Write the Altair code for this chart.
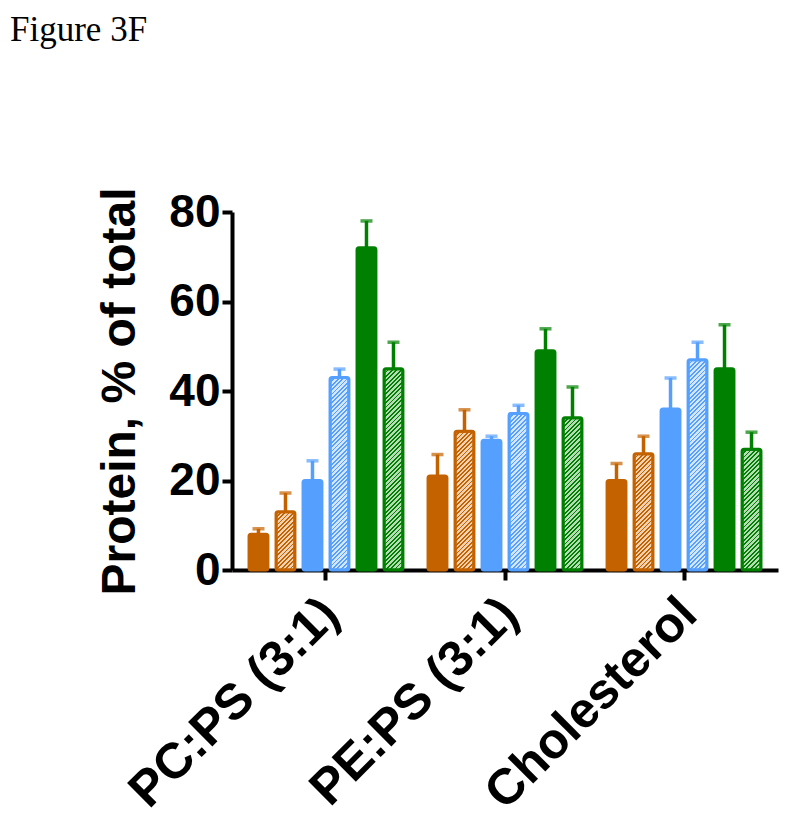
import math
import altair as alt
import pandas as pd

groups = ["PC:PS (3:1)", "PE:PS (3:1)", "Cholesterol"]
series = ["S1", "S2", "S3", "S4", "S5", "S6"]
hatched = [False, True, False, True, False, True]
line_colors = ["#C46200", "#C46200", "#55A0FF", "#55A0FF", "#008000", "#008000"]
pale_colors = ["#C46200", "#F2D2B0", "#55A0FF", "#D2E6FF", "#008000", "#B5DCB5"]

means = {
    "PC:PS (3:1)": [8, 13, 20, 43, 72, 45],
    "PE:PS (3:1)": [21, 31, 29, 35, 49, 34],
    "Cholesterol": [20, 26, 36, 47, 45, 27],
}
errors = {
    "PC:PS (3:1)": [1.2, 4.2, 4.4, 1.9, 6.0, 5.9],
    "PE:PS (3:1)": [4.8, 4.8, 0.9, 1.8, 4.9, 6.9],
    "Cholesterol": [3.8, 3.9, 6.9, 3.9, 9.8, 3.8],
}

rows = []
for g in groups:
    for i, s in enumerate(series):
        m = means[g][i]
        e = errors[g][i]
        rows.append({"group": g, "series": s, "mean": m, "upper": m + e})
df = pd.DataFrame(rows)

FONT = "Liberation Sans"
W, H = 546, 358
Y_MAX = 80
X_PAD_OUTER = 0.025
XO_PAD_INNER, XO_PAD_OUTER = 0.3, 0.465

# size of one sub-band, used to build the hatch gradient of each hatched bar
x_step = W / (len(groups) + 2 * X_PAD_OUTER)
xo_step = x_step / (len(series) - XO_PAD_INNER + 2 * XO_PAD_OUTER)
bar_w = xo_step * (1 - XO_PAD_INNER)


def hatch(value, dark, light, period=3.1, frac=0.42):
    w = bar_w
    h = max(value * H / Y_MAX, 1.0)
    k = (w + h) / (w * w + h * h)
    L = w + h
    P = period * math.sqrt(2)
    n = int(math.ceil(L / P))
    stops = []
    for i in range(n):
        t0 = min(i * P / L, 1.0)
        t1 = min((i + frac) * P / L, 1.0)
        t2 = min((i + 1) * P / L, 1.0)
        stops += [
            {"offset": t0, "color": dark},
            {"offset": t1, "color": dark},
            {"offset": t1, "color": light},
            {"offset": t2, "color": light},
        ]
    return {"gradient": "linear", "x1": 0, "y1": 0, "x2": k * w, "y2": k * h, "stops": stops}


x_enc = alt.X(
    "group:N",
    sort=groups,
    scale=alt.Scale(domain=groups, paddingInner=0, paddingOuter=X_PAD_OUTER),
    axis=alt.Axis(
        title=None,
        labelAngle=-45,
        labelAlign="right",
        labelBaseline="middle",
        labelLimit=0,
        labelFont=FONT,
        labelFontSize=50,
        labelFontWeight="bold",
        labelColor="black",
        labelPadding=26,
        labelOffset=5,
        domainColor="black",
        domainWidth=4,
        tickColor="black",
        tickWidth=4,
        tickSize=10,
    ),
)
xo_enc = alt.XOffset(
    "series:N",
    sort=series,
    scale=alt.Scale(domain=series, paddingInner=XO_PAD_INNER, paddingOuter=XO_PAD_OUTER),
)
y_scale = alt.Scale(domain=[0, Y_MAX], nice=False)
y_enc = alt.Y(
    "mean:Q",
    scale=y_scale,
    axis=alt.Axis(
        title="Protein, % of total",
        values=[0, 20, 40, 60, 80],
        grid=False,
        labelFont=FONT,
        labelFontSize=46,
        labelFontWeight="bold",
        labelColor="black",
        labelPadding=2,
        domainColor="black",
        domainWidth=4,
        tickColor="black",
        tickWidth=4,
        tickSize=10,
        titleFont=FONT,
        titleFontSize=48,
        titleFontWeight="bold",
        titleColor="black",
        titlePadding=24,
    ),
)
color_scale = alt.Scale(domain=series, range=line_colors)

solid_series = [s for s, h in zip(series, hatched) if not h]
solid_bars = (
    alt.Chart(df)
    .transform_filter(alt.FieldOneOfPredicate(field="series", oneOf=solid_series))
    .mark_bar(strokeWidth=3, cornerRadius=2)
    .encode(
        x=x_enc,
        xOffset=xo_enc,
        y=y_enc,
        fill=alt.Fill("series:N", scale=color_scale, legend=None),
        stroke=alt.Stroke("series:N", scale=color_scale, legend=None),
    )
)

hatch_layers = []
for g in groups:
    for i, s in enumerate(series):
        if not hatched[i]:
            continue
        grad = hatch(means[g][i], line_colors[i], pale_colors[i])
        layer = (
            alt.Chart(df)
            .transform_filter(
                (alt.datum.group == g) & (alt.datum.series == s)
            )
            .mark_bar(strokeWidth=3, cornerRadius=2, fill=grad)
            .encode(
                x=x_enc,
                xOffset=xo_enc,
                y=y_enc,
                stroke=alt.Stroke("series:N", scale=color_scale, legend=None),
            )
        )
        hatch_layers.append(layer)

stems = alt.Chart(df).mark_rule(strokeWidth=3.5).encode(
    x=x_enc,
    xOffset=xo_enc,
    y=y_enc,
    y2="upper:Q",
    color=alt.Color("series:N", scale=color_scale, legend=None),
)

caps = alt.Chart(df).mark_tick(size=12, thickness=3.5).encode(
    x=x_enc,
    xOffset=xo_enc,
    y=alt.Y("upper:Q", scale=y_scale),
    color=alt.Color("series:N", scale=color_scale, legend=None),
)

chart = (
    alt.layer(stems, caps, solid_bars, *hatch_layers)
    .properties(
        width=W,
        height=H,
        background="white",
        autosize=alt.AutoSizeParams(type="none"),
        padding={"left": 224, "top": 204, "right": 14, "bottom": 250},
        title=alt.TitleParams(
            text="Figure 3F",
            anchor="start",
            frame="group",
            dx=-222,
            offset=111,
            font="Liberation Serif",
            fontSize=35,
            fontWeight="normal",
            color="black",
            baseline="alphabetic",
        ),
    )
    .configure_view(strokeWidth=0, stroke=None)
)

chart.save("out.html", embed_options={"renderer": "svg", "actions": False})
